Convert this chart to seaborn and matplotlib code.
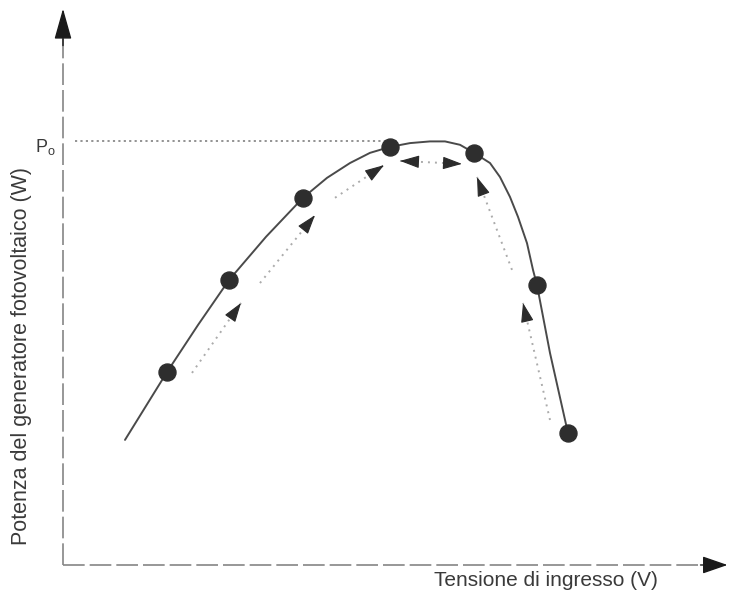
import matplotlib
matplotlib.use("Agg")
import matplotlib.pyplot as plt
import seaborn as sns
import pandas as pd

# P-V characteristic of the photovoltaic generator (voltage, power)
curve_v = [12.4, 16.6, 20.8, 27.0, 33.2, 40.6, 48.0, 52.8, 57.4, 61.4,
           65.4, 69.4, 73.4, 76.4, 79.4, 82.2, 85.4, 87.4, 89.4, 91.0,
           92.8, 94.0, 94.8, 97.4, 101.0]
curve_p = [29.5, 37.5, 45.5, 56.6, 67.2, 77.4, 86.6, 91.3, 94.8, 97.2,
           98.6, 99.5, 99.9, 99.9, 99.1, 97.2, 94.8, 91.5, 86.8, 82.1,
           75.9, 69.6, 66.0, 50.0, 31.1]

# Operating points visited by the tracking algorithm
step_v = [20.8, 33.2, 48.0, 65.4, 82.2, 94.8, 101.0]
step_p = [45.5, 67.2, 86.6, 98.6, 97.2, 66.0, 31.1]

# Direction of the perturbation between steps (start -> end)
move_start_v = [25.8, 39.4, 54.4, 89.8, 97.4]
move_start_p = [45.3, 66.5, 86.6, 69.6, 34.2]
move_end_v = [35.6, 50.4, 64.2, 82.8, 92.0]
move_end_p = [61.8, 82.5, 94.3, 91.5, 61.8]

# Oscillation around the maximum power point
osc_v = [67.4, 79.8]
osc_p = [95.3, 94.6]

P0 = 100.0

sns.set_theme(style="white")
plt.rcParams["font.family"] = ["Liberation Sans", "DejaVu Sans"]

fig = plt.figure(figsize=(7.29, 6.09), dpi=100)
ax = fig.add_axes([0, 0, 1, 1])
ax.set_xlim(-12.6, 133.2)
ax.set_ylim(-10.38, 133.25)
ax.axis("off")

axis_color = "#858585"
# Axes drawn as dashed lines ending in filled arrowheads
ax.plot([0, 0], [0, 124.0], color=axis_color, lw=1.2, ls=(0, (13, 3)))
ax.plot([0, 129.6], [0, 0], color=axis_color, lw=1.2, ls=(0, (13, 3)))
ax.annotate("", xy=(0, 131.2), xytext=(0, 122.5),
            arrowprops=dict(arrowstyle="-|>,head_length=1.6,head_width=0.45",
                            color="#1a1a1a", lw=1.0, shrinkA=0, shrinkB=0))
ax.annotate("", xy=(132.9, 0), xytext=(127.5, 0),
            arrowprops=dict(arrowstyle="-|>,head_length=1.3,head_width=0.45",
                            color="#1a1a1a", lw=1.0, shrinkA=0, shrinkB=0))

# Maximum power level
ax.plot([2.4, 67.0], [P0, P0], color="#8a8a8a", lw=1.3, ls=(0, (1.2, 1.8)))

curve = pd.DataFrame({"V": curve_v, "P": curve_p})
sns.lineplot(data=curve, x="V", y="P", sort=False, ax=ax,
             color="#4a4a4a", lw=1.4)

steps = pd.DataFrame({"V": step_v, "P": step_p})
sns.scatterplot(data=steps, x="V", y="P", ax=ax, s=150,
                color="#2e2e2e", edgecolor="#2e2e2e", zorder=5)

dot_style = dict(color="#ababab", lw=1.4, ls=(0, (1.0, 2.6)))
head_style = dict(arrowstyle="-|>,head_length=1.0,head_width=0.33",
                  color="#2b2b2b", lw=0.8, shrinkA=0, shrinkB=0)


def head(v0, p0, v1, p1):
    # short solid stub near the tip so that only the filled head shows
    ax.annotate("", xy=(v1, p1),
                xytext=(v1 - 0.12 * (v1 - v0), p1 - 0.12 * (p1 - p0)),
                arrowprops=head_style)


for v0, p0, v1, p1 in zip(move_start_v, move_start_p, move_end_v, move_end_p):
    ax.plot([v0, v1], [p0, p1], **dot_style)
    head(v0, p0, v1, p1)

ax.plot(osc_v, osc_p, **dot_style)
head(osc_v[1], osc_p[1], osc_v[0], osc_p[0])
head(osc_v[0], osc_p[0], osc_v[1], osc_p[1])

text_color = "#3a3a3a"
ax.text(-3.6, 98.6, r"$\mathregular{P_o}$", ha="center", va="center",
        fontsize=13, color=text_color)
ax.text(-8.2, 49.2, "Potenza del generatore fotovoltaico (W)", rotation=90,
        ha="center", va="center", fontsize=15.5, color=text_color)
ax.text(96.6, -3.6, "Tensione di ingresso (V)", ha="center", va="center",
        fontsize=15, color=text_color)

ax.set_xlabel("")
ax.set_ylabel("")
fig.savefig("out.png", dpi=100, facecolor="white")
